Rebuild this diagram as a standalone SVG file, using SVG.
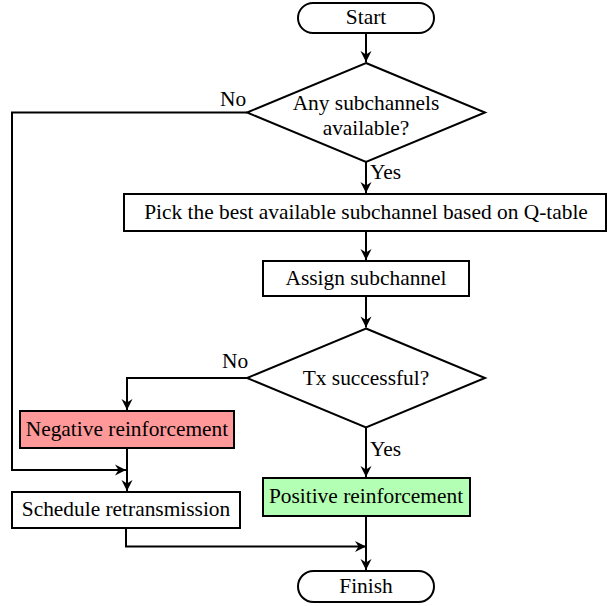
<svg xmlns="http://www.w3.org/2000/svg" width="616" height="606" viewBox="0 0 616 606">
<style>
.s{fill:#fff;stroke:#000;stroke-width:2}
text{font-family:'Liberation Serif','DejaVu Serif',serif;font-size:21.4px;fill:#000}
.t{text-anchor:middle}
.c{fill:none;stroke:#000;stroke-width:2}
</style>
<defs>
<marker id="a" markerUnits="userSpaceOnUse" markerWidth="14" markerHeight="14" refX="12" refY="7" orient="auto">
<path d="M12,7 L1,1.5 L4.5,7 L1,12.5 Z" fill="#000"/>
</marker>
</defs>
<rect width="616" height="606" fill="#fff"/>
<g id="start"><rect class="s" x="298" y="3" width="136" height="30" rx="15"/><text class="t" x="366" y="24">Start</text></g>
<g id="dec1"><polygon class="s" points="366,63 485,112.5 366,162 247,112.5"/><text class="t" x="366" y="110">Any subchannels</text><text class="t" x="366" y="135">available?</text></g>
<g id="pick"><rect class="s" x="124" y="194" width="482" height="37"/><text class="t" x="366" y="219">Pick the best available subchannel based on Q-table</text></g>
<g id="assign"><rect class="s" x="263" y="261" width="206" height="35"/><text class="t" x="366" y="285">Assign subchannel</text></g>
<g id="dec2"><polygon class="s" points="366,328.5 485,378 366,427.5 247,378"/><text class="t" x="366" y="385">Tx successful?</text></g>
<g id="neg"><rect class="s" x="20" y="411" width="214" height="37" style="fill:#ff9999"/><text class="t" x="127" y="436">Negative reinforcement</text></g>
<g id="sched"><rect class="s" x="12" y="492" width="228" height="36"/><text class="t" x="126" y="516">Schedule retransmission</text></g>
<g id="pos"><rect class="s" x="263" y="478" width="207" height="38" style="fill:#b3ffb3"/><text class="t" x="366" y="503">Positive reinforcement</text></g>
<g id="finish"><rect class="s" x="298" y="571" width="136" height="31" rx="15.5"/><text class="t" x="366" y="593">Finish</text></g>
<g id="connectors">
<path class="c" d="M366,33 V62" marker-end="url(#a)"/>
<path class="c" d="M366,162 V193" marker-end="url(#a)"/>
<path class="c" d="M366,231 V260" marker-end="url(#a)"/>
<path class="c" d="M366,296 V327.5" marker-end="url(#a)"/>
<path class="c" d="M247,112.5 H12 V470 H126" marker-end="url(#a)"/>
<path class="c" d="M247,378 H127 V410" marker-end="url(#a)"/>
<path class="c" d="M127,448 V491" marker-end="url(#a)"/>
<path class="c" d="M366,427.5 V477" marker-end="url(#a)"/>
<path class="c" d="M126,528 V546.5 H366" marker-end="url(#a)"/>
<path class="c" d="M366,516 V570" marker-end="url(#a)"/>
<text x="220" y="106">No</text>
<text x="370" y="179">Yes</text>
<text x="222" y="368">No</text>
<text x="370" y="456">Yes</text>
</g>
</svg>
